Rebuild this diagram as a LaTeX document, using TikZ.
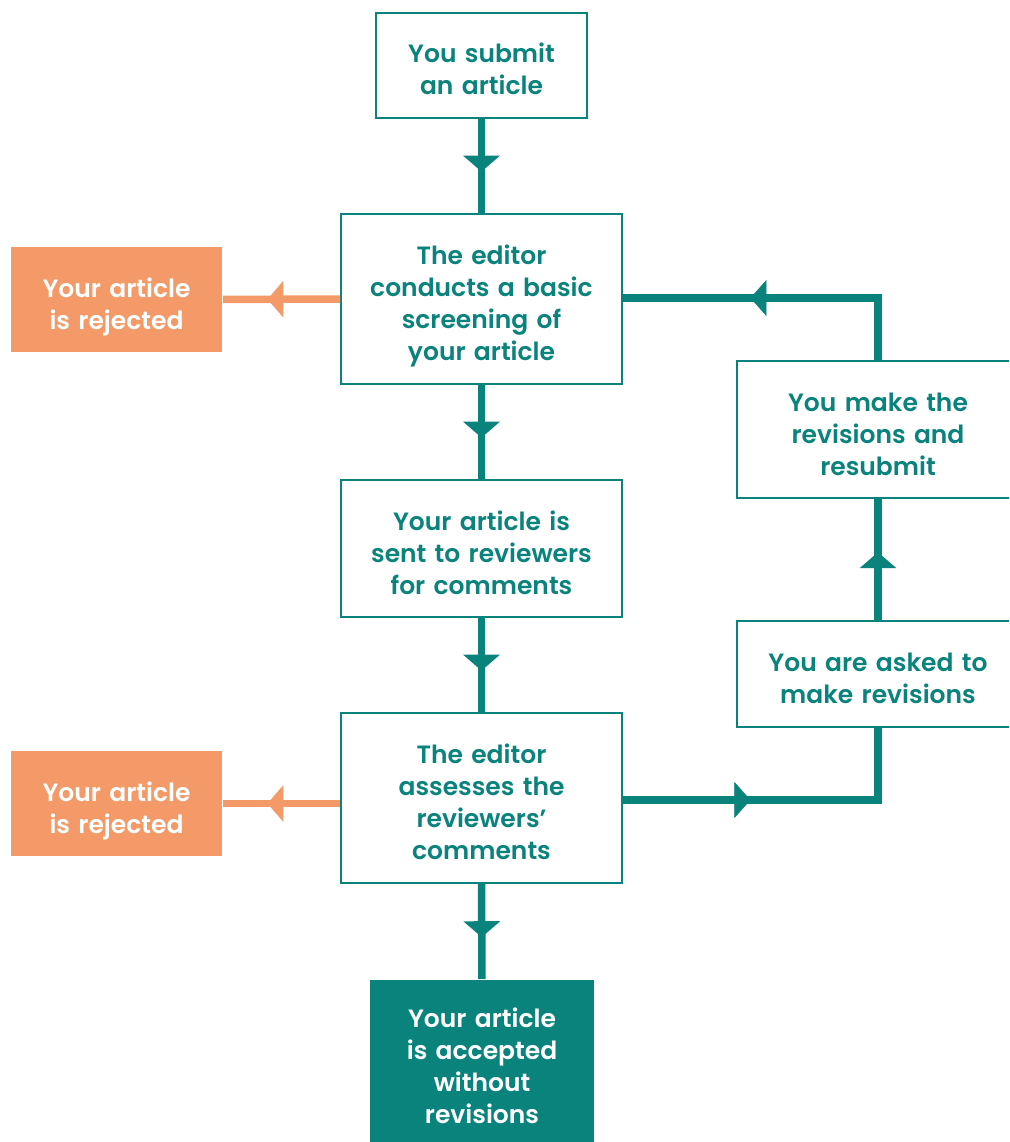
\documentclass[tikz,border=0pt]{standalone}
\usepackage{fontspec}
\setmainfont{Poppins}[BoldFont={Poppins SemiBold}]
\usetikzlibrary{arrows.meta,decorations.markings}

\definecolor{teal}{HTML}{0A837D}
\definecolor{peach}{HTML}{F49A68}

\tikzset{
  box/.style={draw=teal, line width=1.6pt, fill=white, text=teal, align=center, inner sep=0pt,
    font=\fontsize{25}{32}\selectfont\bfseries,
    execute at begin node={\rule{0pt}{36pt}}, execute at end node={\rule[-9pt]{0pt}{9pt}}},
  endbox/.style={box, draw=none, fill=#1, text=white},
  size/.style 2 args={minimum width=#1pt, minimum height=#2pt, text width=#1pt-14pt},
  link/.style={draw=#1, line width=7.5pt},
  head/.style 2 args={postaction={decorate}, decoration={markings,
    mark=at position #2 with {\arrow[#1]{Triangle[width=36pt,length=16pt]}}}}
}

\begin{document}
\begin{tikzpicture}[x=1pt, y=-1pt]
  \clip (0,0) rectangle (1009,1142);
  \fill[white] (0,0) rectangle (1009,1142);

  % Main column
  \node[box, size={211}{105}] (submit) at (481.5,65.5) {You submit\\an article};
  \node[box, size={281}{170}] (screen) at (481.5,299) {The editor\\conducts a basic\\screening of\\your article};
  \node[box, size={281}{137}] (sent) at (481.5,548.5) {Your article is\\sent to reviewers\\for comments};
  \node[box, size={281}{170}] (assess) at (481.5,798) {The editor\\assesses the\\reviewers'\\comments};
  \node[endbox=teal, size={224}{164}] (accept) at (482,1062) {Your article\\is accepted\\without\\revisions};

  % Rejections
  \node[endbox=peach, size={211}{105}] (reject1) at (116.5,299.5) {Your article\\is rejected};
  \node[endbox=peach, size={211}{105}] (reject2) at (116.5,803.5) {Your article\\is rejected};

  % Revision loop
  \node[box, size={282}{137}] (revise) at (878,429.5) {You make the\\revisions and\\resubmit};
  \node[box, size={282}{106}] (asked) at (878,674) {You are asked to\\make revisions};
  \coordinate (low) at (878,800);
  \coordinate (high) at (878,298);

  % Connectors
  \draw[link=teal, head={teal}{0.56}] (submit) -- (screen);
  \draw[link=teal, head={teal}{0.56}] (screen) -- (sent);
  \draw[link=teal, head={teal}{0.56}] (sent) -- (assess);
  \draw[link=teal, head={teal}{0.56}] (assess) -- (accept);
  \draw[link=peach, head={peach}{0.62}] (screen.west) -- (reject1.east);
  \draw[link=peach, head={peach}{0.62}] (assess.west |- reject2) -- (reject2.east);
  \draw[link=teal, line join=miter] (assess.east |- low) -- (low) -- (asked.south);
  \path[head={teal}{0.5}] (assess.east |- low) -- (low);
  \draw[link=teal, head={teal}{0.56}] (asked) -- (revise);
  \draw[link=teal, line join=miter] (revise.north) -- (high) -- (screen.east |- high);
  \path[head={teal}{0.5}] (high) -- (screen.east |- high);
\end{tikzpicture}
\end{document}
